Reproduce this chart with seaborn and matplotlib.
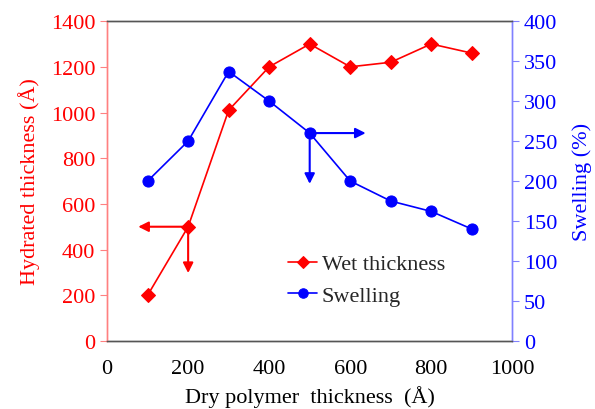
import matplotlib
matplotlib.use("Agg")
import matplotlib.pyplot as plt
import seaborn as sns
import pandas as pd

dry = [100, 200, 300, 400, 500, 600, 700, 800, 900]
wet = [200, 500, 1010, 1200, 1300, 1200, 1220, 1300, 1260]
swelling = [200, 250, 337, 300, 260, 200, 175, 162, 140]

sns.set_style("white")
plt.rcParams['font.family'] = ['Liberation Serif', 'DejaVu Serif']

df = pd.DataFrame({"dry": dry, "wet": wet, "swelling": swelling})

fig = plt.figure(figsize=(5.95, 4.1), dpi=100)
ax = fig.add_axes([0.180, 0.166, 0.681, 0.780])
ax2 = ax.twinx()

red = "#ff0000"
blue = "#0000ff"

sns.lineplot(data=df, x="dry", y="wet", ax=ax, color=red, marker="D", markersize=7,
             markeredgecolor=red, linewidth=1.2, label="Wet thickness", legend=False)
sns.lineplot(data=df, x="dry", y="swelling", ax=ax2, color=blue, marker="o", markersize=8,
             markeredgecolor=blue, linewidth=1.2, label="Swelling", legend=False)

ax.set_xlim(0, 1000)
ax.set_ylim(0, 1400)
ax2.set_ylim(0, 400)
ax.set_xticks(range(0, 1001, 200))
ax.set_yticks(range(0, 1401, 200))
ax2.set_yticks(range(0, 401, 50))

fs = 16
ax.set_xlabel("Dry polymer  thickness  (Å)", fontsize=fs, color="black", labelpad=5)
ax.set_ylabel("Hydrated thickness (Å)", fontsize=fs, color=red, labelpad=8)
ax2.set_ylabel("Swelling (%)", fontsize=fs, color=blue, labelpad=11)

ax.tick_params(axis="x", direction="in", length=4, labelsize=fs, colors="black", pad=13, color="#555555")
ax.tick_params(axis="y", direction="out", length=5, labelsize=fs, labelcolor=red, color="#ff8080", left=True)
ax2.tick_params(axis="y", direction="out", length=5, labelsize=fs, labelcolor=blue, color="#8080ff", right=True)

for a in (ax, ax2):
    a.spines["top"].set_color("#555555")
    a.spines["bottom"].set_color("#555555")
    a.spines["left"].set_color("#ff8080")
    a.spines["right"].set_color("#8080ff")
    for s in a.spines.values():
        s.set_linewidth(1.0)
        s.set_visible(True)

# arrows
arrow_kw = dict(arrowstyle="-|>,head_length=0.6,head_width=0.3", lw=1.5)
ax.annotate("", xy=(70, 500), xytext=(200, 500), arrowprops=dict(color=red, **arrow_kw))
ax.annotate("", xy=(200, 285), xytext=(200, 500), arrowprops=dict(color=red, **arrow_kw))
ax2.annotate("", xy=(645, 260), xytext=(500, 260), arrowprops=dict(color=blue, **arrow_kw))
ax2.annotate("", xy=(500, 193), xytext=(500, 260), arrowprops=dict(color=blue, **arrow_kw))

h1, l1 = ax.get_legend_handles_labels()
h2, l2 = ax2.get_legend_handles_labels()
leg = ax2.legend(h1 + h2, l1 + l2, loc="center left", bbox_to_anchor=(0.398, 0.191),
                 frameon=False, fontsize=fs, handlelength=1.3, handletextpad=0.2,
                 labelspacing=0.5, markerscale=0.85)

fig.savefig("out.png", dpi=100)
